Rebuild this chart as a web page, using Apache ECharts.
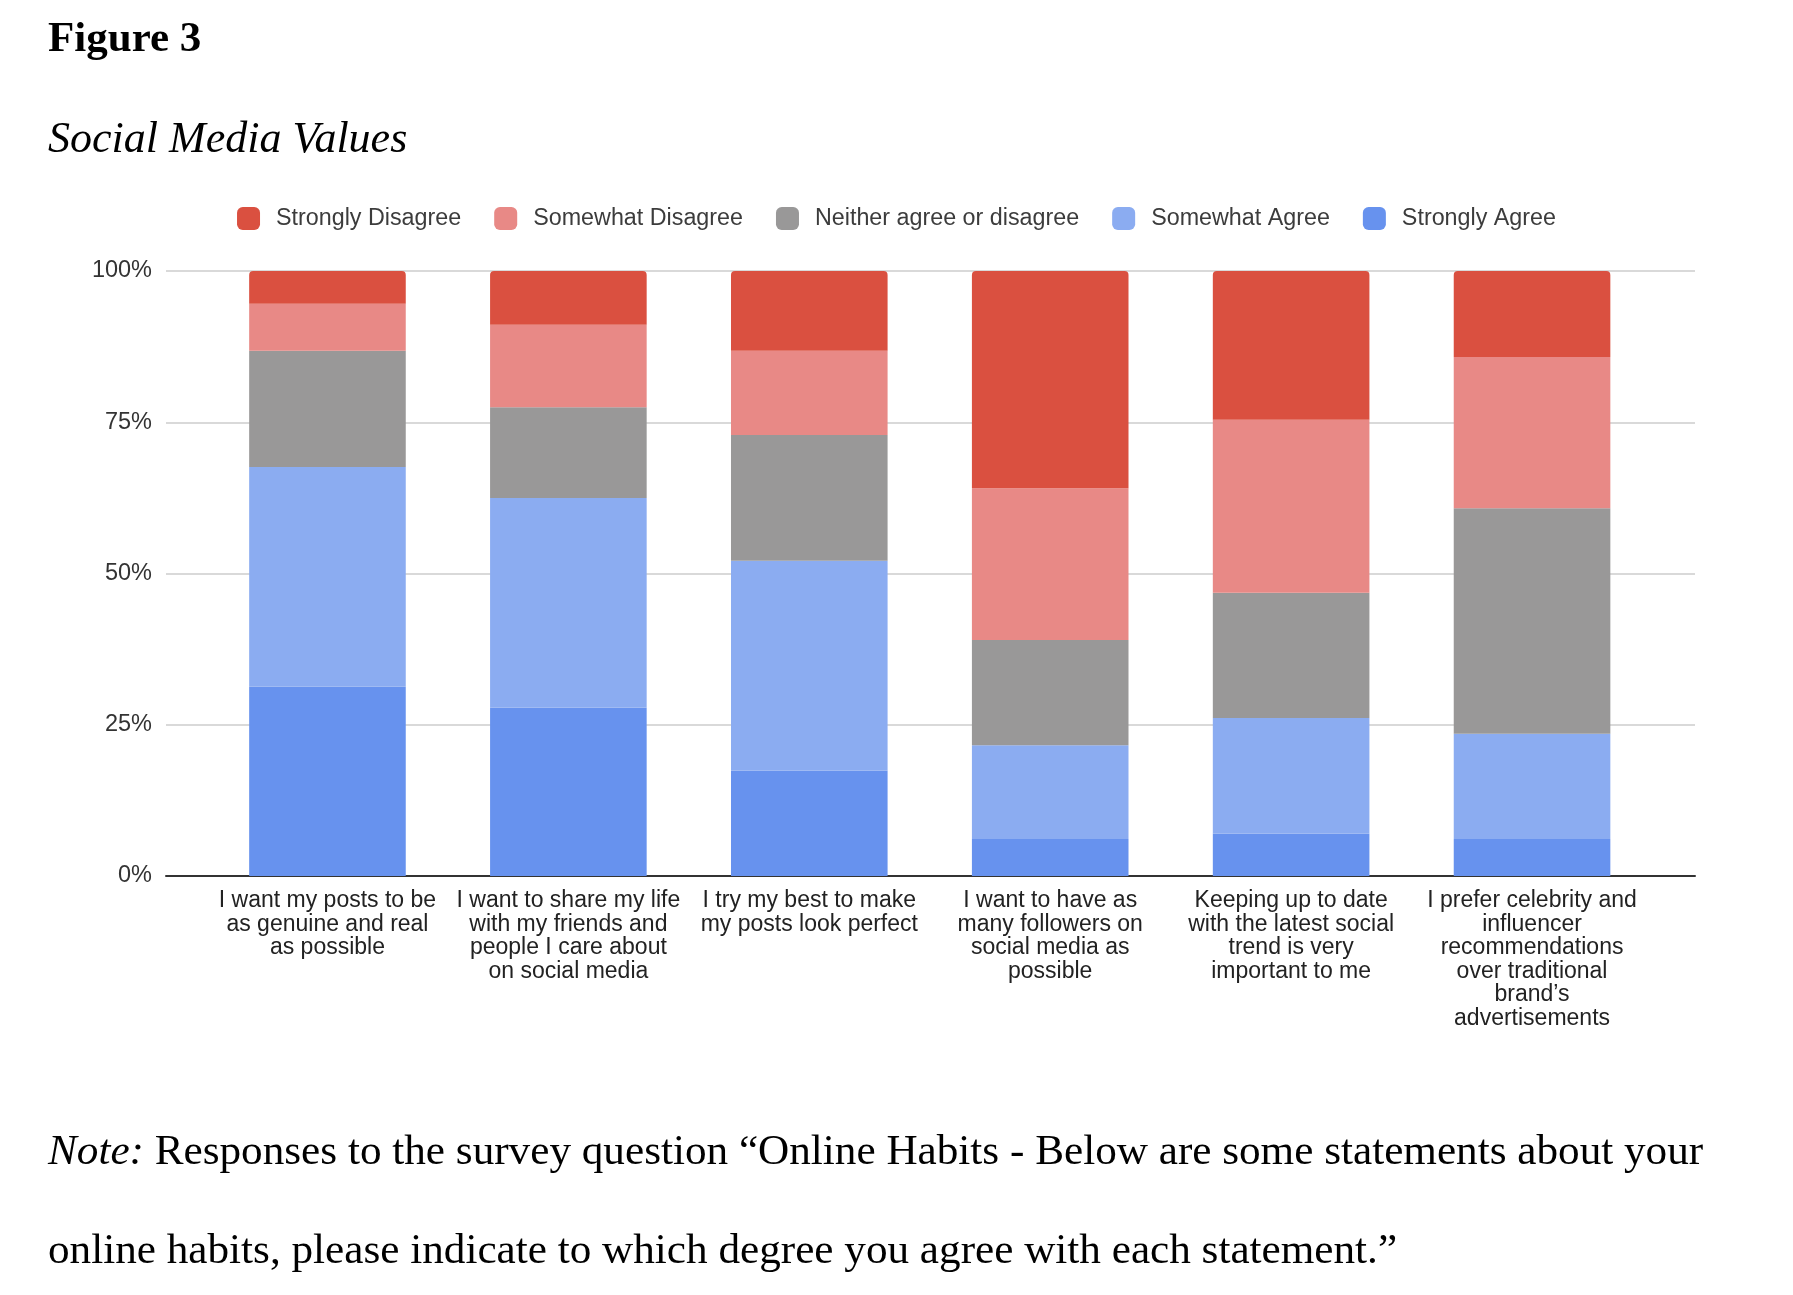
<!DOCTYPE html>
<html>
<head>
<meta charset="utf-8">
<script src="https://cdn.jsdelivr.net/npm/echarts@6/dist/echarts.min.js"></script>
<style>
html,body{margin:0;padding:0;background:#fff;}
#chart{width:1793px;height:1295px;}
</style>
</head>
<body>
<div id="chart"></div>
<script>
const categories = [
  "I want my posts to be\nas genuine and real\nas possible",
  "I want to share my life\nwith my friends and\npeople I care about\non social media",
  "I try my best to make\nmy posts look perfect",
  "I want to have as\nmany followers on\nsocial media as\npossible",
  "Keeping up to date\nwith the latest social\ntrend is very\nimportant to me",
  "I prefer celebrity and\ninfluencer\nrecommendations\nover traditional\nbrand\u2019s\nadvertisements"
];
const seriesNames = ["Strongly Agree", "Somewhat Agree", "Neither agree or disagree", "Somewhat Disagree", "Strongly Disagree"];
const legendOrder = ["Strongly Disagree", "Somewhat Disagree", "Neither agree or disagree", "Somewhat Agree", "Strongly Agree"];
const stronglyAgree    = [31.3, 27.8, 17.4,  6.1,  7.0,  6.1];
const somewhatAgree    = [36.3, 34.7, 34.7, 15.5, 19.1, 17.4];
const neither          = [19.2, 15.0, 20.8, 17.4, 20.7, 37.3];
const somewhatDisagree = [ 7.8, 13.6, 13.9, 25.1, 28.6, 25.0];
const stronglyDisagree = [ 5.4,  8.9, 13.2, 35.9, 24.6, 14.2];
const yTicks = [0, 25, 50, 75, 100];

const colors = ["#6792EE", "#8BACF1", "#999898", "#E88986", "#DA5040"];
const seriesData = [stronglyAgree, somewhatAgree, neither, somewhatDisagree, stronglyDisagree];

const chart = echarts.init(document.getElementById('chart'), null, {renderer: 'canvas'});

const sansFont = "'Liberation Sans', Arial, sans-serif";
const serifFont = "'Liberation Serif', 'Times New Roman', serif";

const option = {
  backgroundColor: '#ffffff',
  animation: false,
  color: colors,
  graphic: [
    {type: 'text', left: 48, top: 18, style: {text: 'Figure 3', font: 'bold 43px ' + serifFont, fill: '#000'}},
    {type: 'text', left: 48, top: 118, style: {text: 'Social Media Values', font: 'italic 44px ' + serifFont, fill: '#000'}},
    {type: 'text', left: 48, top: 1131, style: {
      text: '{i|Note:} Responses to the survey question \u201cOnline Habits - Below are some statements about your',
      font: '43.2px ' + serifFont, fill: '#000',
      rich: {i: {fontStyle: 'italic', fontSize: 43.2, fontFamily: serifFont, fill: '#000'}}
    }},
    {type: 'text', left: 48, top: 1230, style: {
      text: 'online habits, please indicate to which degree you agree with each statement.\u201d',
      font: '43.2px ' + serifFont, fill: '#000'
    }}
  ],
  legend: {
    data: legendOrder,
    top: 202,
    left: 'center',
    itemWidth: 23,
    itemHeight: 23,
    itemGap: 33,
    icon: 'roundRect',
    textStyle: {fontFamily: sansFont, fontSize: 23.3, color: '#3c3c3c', padding: [0, 0, 0, 11]}
  },
  grid: [
    {left: 166, right: 98, top: 271, bottom: 419, containLabel: false},
    {left: 207, right: 140.5, top: 271, bottom: 419, containLabel: false}
  ],
  xAxis: [
    {type: 'value', gridIndex: 0, min: 0, max: 1, axisLabel: {show: false}, axisTick: {show: false},
     splitLine: {show: false}, axisLine: {show: true, onZero: false, lineStyle: {color: '#333', width: 2}}},
    {type: 'category', gridIndex: 1, data: categories, axisLine: {show: false}, axisTick: {show: false},
     axisLabel: {interval: 0, margin: 13, fontFamily: sansFont, fontSize: 23, lineHeight: 23.5, color: '#222', align: 'center'}}
  ],
  yAxis: [
    {type: 'value', gridIndex: 0, min: yTicks[0], max: yTicks[yTicks.length - 1], interval: 25,
     axisLine: {show: false}, axisTick: {show: false},
     axisLabel: {formatter: '{value}%', margin: 14, fontFamily: sansFont, fontSize: 23.5, color: '#333'},
     splitLine: {show: true, lineStyle: {color: '#d9d9d9', width: 2}}},
    {type: 'value', gridIndex: 1, min: 0, max: 100, show: false, splitLine: {show: false}}
  ],
  series: seriesNames.map((name, i) => ({
    name: name,
    type: 'bar',
    stack: 'total',
    xAxisIndex: 1,
    yAxisIndex: 1,
    barWidth: '65%',
    data: seriesData[i],
    itemStyle: {color: colors[i], borderRadius: i === seriesNames.length - 1 ? [4, 4, 0, 0] : 0}
  }))
};
chart.setOption(option);
</script>
</body>
</html>
